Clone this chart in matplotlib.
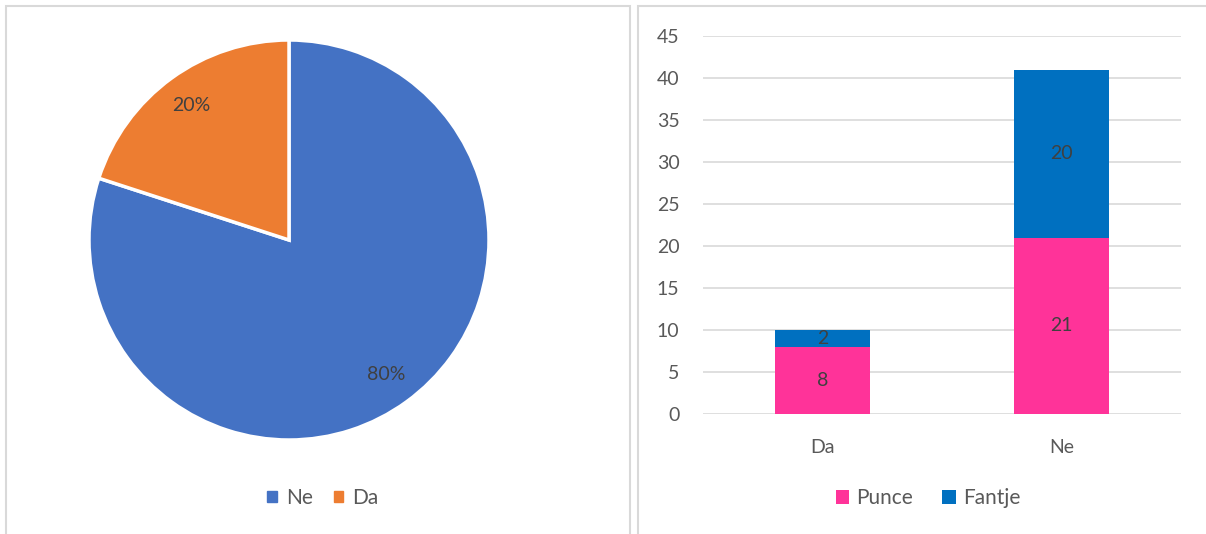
import matplotlib
matplotlib.use("Agg")
import matplotlib.pyplot as plt
import matplotlib.patches as mpatches

plt.rcParams['font.family'] = ['Lato', 'DejaVu Sans']

# pie data
pie_labels = ["Ne", "Da"]
pie_values = [80, 20]
pie_colors = ["#4472C4", "#ED7D31"]

# bar data
categories = ["Da", "Ne"]
punce = [8, 21]
fantje = [2, 20]
bar_colors = ["#FF3399", "#0070C0"]
y_ticks = [0, 5, 10, 15, 20, 25, 30, 35, 40, 45]

W, H = 1206, 534
fig = plt.figure(figsize=(W / 100, H / 100), dpi=100)
txt = "#595959"
lbl = "#404040"


def px(left, top, width, height):
    return [left / W, 1 - (top + height) / H, width / W, height / H]


# panel borders
for x0, x1 in [(6, 630), (638, 1212)]:
    fig.patches.append(mpatches.Rectangle((x0 / W, -0.05), (x1 - x0) / W, (H - 6) / H + 0.05,
                                          transform=fig.transFigure, fill=False,
                                          edgecolor="#D9D9D9", linewidth=1.5))

# pie
ax0 = fig.add_axes(px(89, 40, 400, 400))
wedges, _, autotexts = ax0.pie(pie_values, colors=pie_colors, startangle=90, counterclock=False,
                               autopct="%d%%", pctdistance=0.83,
                               wedgeprops=dict(edgecolor="white", linewidth=2.5),
                               textprops=dict(color=lbl, fontsize=14))
ax0.set_xlim(-1, 1)
ax0.set_ylim(-1, 1)
ax0.set_aspect("equal")
ax0.axis("off")

handles0 = [mpatches.Patch(color=c, label=l) for c, l in zip(pie_colors, pie_labels)]
fig.legend(handles=handles0, loc="center", bbox_to_anchor=(323 / W, 1 - 498 / H), ncol=2,
           frameon=False, fontsize=15, handlelength=0.45, handleheight=0.45,
           handletextpad=0.45, columnspacing=1.0, labelcolor=txt)

# stacked bars
ax1 = fig.add_axes(px(703, 36, 478, 378))
x = range(len(categories))
b1 = ax1.bar(x, punce, width=0.4, color=bar_colors[0], label="Punce", zorder=3)
b2 = ax1.bar(x, fantje, width=0.4, bottom=punce, color=bar_colors[1], label="Fantje", zorder=3)
ax1.bar_label(b1, label_type="center", color=lbl, fontsize=14)
ax1.bar_label(b2, label_type="center", color=lbl, fontsize=14)
ax1.set_xlim(-0.5, 1.5)
ax1.set_ylim(0, 45)
ax1.set_yticks(y_ticks)
ax1.set_xticks(list(x))
ax1.set_xticklabels(categories)
ax1.grid(axis="y", color="#D9D9D9", linewidth=1.2, zorder=0)
for s in ax1.spines.values():
    s.set_visible(False)
ax1.tick_params(length=0, labelsize=14, labelcolor=txt)
ax1.tick_params(axis="y", pad=17)
ax1.tick_params(axis="x", pad=18)

fig.legend(handles=[b1, b2], loc="center", bbox_to_anchor=(928 / W, 1 - 498 / H), ncol=2,
           frameon=False, fontsize=15, handlelength=0.65, handleheight=0.65,
           handletextpad=0.35, columnspacing=1.4, labelcolor=txt)

fig.savefig("out.png", dpi=100, facecolor="white")
